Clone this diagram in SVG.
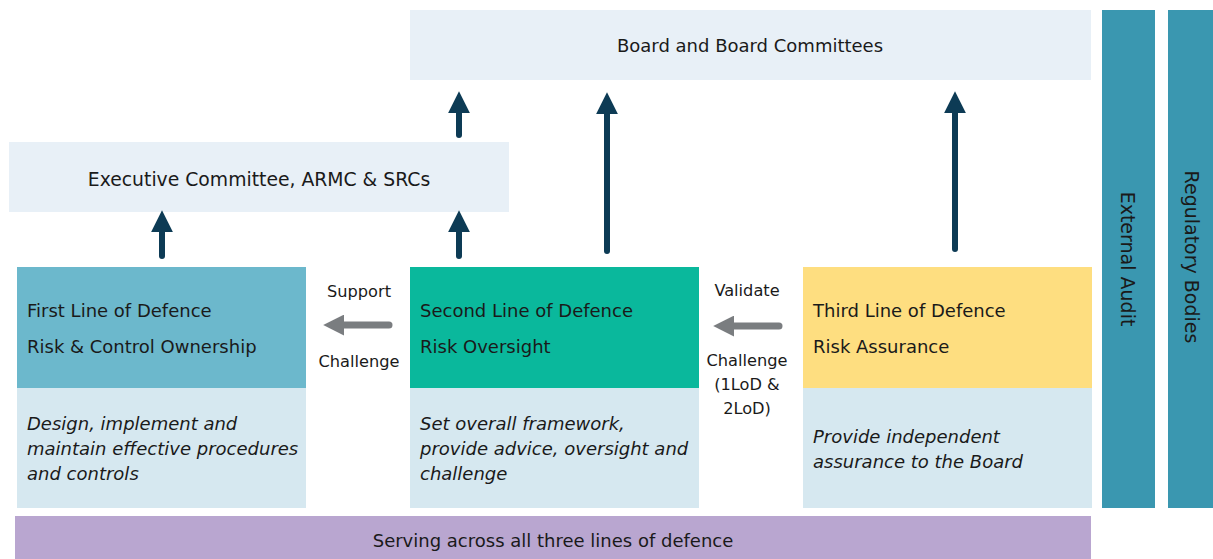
<svg xmlns="http://www.w3.org/2000/svg" width="1213" height="559" viewBox="0 0 1213 559">
<defs>
<style>
.t{font-family:"DejaVu Sans","Liberation Sans",Arial,sans-serif;font-size:18px;fill:#1a1a1a}
.c{text-anchor:middle}
.i{font-style:italic}
.v{font-size:19px}
.s{font-size:16.2px}
.up{stroke:#0d3b55;stroke-width:6;fill:none;stroke-linecap:round}
.side{stroke:#7a7d80;stroke-width:7;fill:none;stroke-linecap:round}
</style>
<marker id="ah" viewBox="0 0 10 10" refX="2" refY="5" markerWidth="3.7" markerHeight="3.7" orient="auto-start-reverse" markerUnits="strokeWidth"><path d="M0,0 L10,5 L0,10 z" fill="#0d3b55"/></marker>
<marker id="ag" viewBox="0 0 10 10" refX="2" refY="5" markerWidth="3" markerHeight="3" orient="auto-start-reverse" markerUnits="strokeWidth"><path d="M0,0 L10,5 L0,10 z" fill="#7a7d80"/></marker>
</defs>
<rect width="1213" height="559" fill="#fff"/>
<g id="board"><rect x="410" y="10" width="681" height="70" fill="#e8f0f7"/><text class="t c" x="750" y="52">Board and Board Committees</text></g>
<g id="exec"><rect x="9" y="142" width="500" height="70" fill="#e8f0f7"/><text class="t c" x="259" y="186" style="font-size:18.8px">Executive Committee, ARMC &amp; SRCs</text></g>
<g id="first"><rect x="17" y="267" width="289" height="121" fill="#6cb8cc"/><rect x="17" y="388" width="289" height="120" fill="#d6e8f0"/>
<text class="t" x="27" y="317">First Line of Defence</text><text class="t" x="27" y="353">Risk &amp; Control Ownership</text>
<text class="t i" x="27" y="430">Design, implement and</text><text class="t i" x="27" y="455">maintain effective procedures</text><text class="t i" x="27" y="480">and controls</text></g>
<g id="second"><rect x="410" y="267" width="289" height="121" fill="#0ab89c"/><rect x="410" y="388" width="289" height="120" fill="#d6e8f0"/>
<text class="t" x="420" y="317">Second Line of Defence</text><text class="t" x="420" y="353">Risk Oversight</text>
<text class="t i" x="420" y="430">Set overall framework,</text><text class="t i" x="420" y="455">provide advice, oversight and</text><text class="t i" x="420" y="480">challenge</text></g>
<g id="third"><rect x="803" y="267" width="289" height="121" fill="#fede80"/><rect x="803" y="388" width="289" height="120" fill="#d6e8f0"/>
<text class="t" x="813" y="317">Third Line of Defence</text><text class="t" x="813" y="353">Risk Assurance</text>
<text class="t i" x="813" y="443">Provide independent</text><text class="t i" x="813" y="468">assurance to the Board</text></g>
<g id="external-audit"><rect x="1102" y="10" width="53" height="498" fill="#3a97b0"/><text class="t c v" transform="translate(1121,259) rotate(90)">External Audit</text></g>
<g id="regulatory-bodies"><rect x="1168" y="10" width="45" height="498" fill="#3a97b0"/><text class="t c v" transform="translate(1185,257) rotate(90)">Regulatory Bodies</text></g>
<g id="serving"><rect x="15" y="516" width="1076" height="43" fill="#b9a6d0"/><text class="t c" x="553" y="547">Serving across all three lines of defence</text></g>
<g id="connectors">
<line class="up" x1="162" y1="256" x2="162" y2="228" marker-end="url(#ah)"/>
<line class="up" x1="459" y1="256" x2="459" y2="228" marker-end="url(#ah)"/>
<line class="up" x1="459" y1="135" x2="459" y2="109" marker-end="url(#ah)"/>
<line class="up" x1="607" y1="251" x2="607" y2="110" marker-end="url(#ah)"/>
<line class="up" x1="955" y1="249" x2="955" y2="109" marker-end="url(#ah)"/>
<line class="side" x1="389" y1="325" x2="340" y2="325" marker-end="url(#ag)"/>
<line class="side" x1="779" y1="326" x2="730" y2="326" marker-end="url(#ag)"/>
<text class="t c s" x="359" y="297">Support</text>
<text class="t c s" x="359" y="367">Challenge</text>
<text class="t c s" x="747" y="296">Validate</text>
<text class="t c s" x="747" y="366">Challenge</text>
<text class="t c s" x="747" y="390">(1LoD &amp;</text>
<text class="t c s" x="747" y="414">2LoD)</text>
</g>
</svg>
